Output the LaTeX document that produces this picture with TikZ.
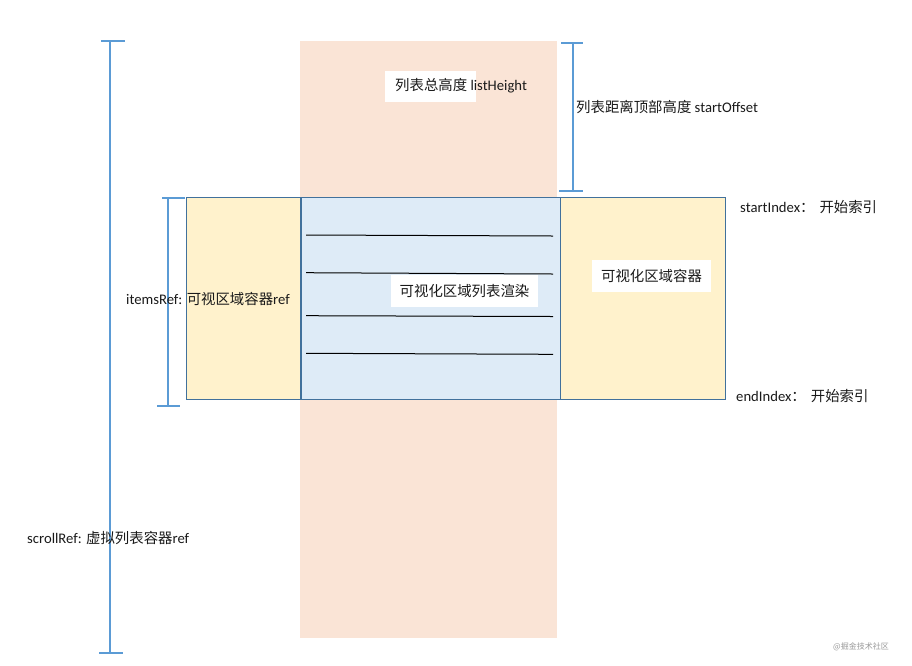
\documentclass[tikz,border=0pt]{standalone}
\usepackage{fontspec}
\setmainfont{Carlito}
\newfontfamily\cjk{Noto Sans CJK SC}
\newcommand{\zh}[1]{{\cjk\fontsize{14.4}{16}\selectfont #1}}
\definecolor{peachc}{HTML}{FAE4D6}
\definecolor{yellowc}{HTML}{FFF2CC}
\definecolor{bluec}{HTML}{DEEBF7}
\definecolor{edgec}{HTML}{41719C}
\definecolor{brkc}{HTML}{5B9BD5}
\definecolor{txtc}{HTML}{1A1A1A}
\definecolor{wmc}{HTML}{9A9A9A}
\begin{document}
\begin{tikzpicture}[x=1pt,y=-1pt,
  areabox/.style={draw=edgec,line width=0.8pt},
  rowline/.style={draw=black,line width=1pt},
  brk/.style={draw=brkc,line width=1.1pt},
  whitebox/.style={fill=white,draw=none},
  lbl/.style={anchor=west,inner sep=0pt,text=txtc,font=\fontsize{14.67}{16}\selectfont},
  clbl/.style={anchor=center,inner sep=0pt,text=txtc,font=\fontsize{14.67}{16}\selectfont}]
\useasboundingbox (0,0) rectangle (912,665);
\fill[white] (0,0) rectangle (912,665);
% list background
\fill[peachc] (300,41) rectangle (557,638);
% containers
\path[areabox,fill=yellowc] (186,197) rectangle (300,399);
\path[areabox,fill=bluec] (301,197) rectangle (560,399);
\path[areabox,fill=yellowc] (560,197) rectangle (725,399);
% rows
\draw[rowline] (306,235) -- (553,236);
\draw[rowline] (306,272.7) -- (553,274);
\draw[rowline] (306,315.7) -- (553,316.5);
\draw[rowline] (306,353.3) -- (553,354.3);
% white label backgrounds
\fill[whitebox] (385,71) rectangle (476,102);
\fill[whitebox] (391,275) rectangle (538,307);
\fill[whitebox] (592,260) rectangle (711,292);
% brackets
\draw[brk] (110,41) -- (110,653);
\draw[brk] (101,41) -- (125,41);
\draw[brk] (99,653) -- (123,653);
\draw[brk] (573,43) -- (573,191);
\draw[brk] (561,43) -- (583,43);
\draw[brk] (559,191) -- (583,191);
\draw[brk] (168,198) -- (168,406);
\draw[brk] (162,198) -- (185,198);
\draw[brk] (157,406) -- (180,406);
% labels
\node[lbl] (listh) at (395,86) {\zh{列表总高度} listHeight};
\node[lbl] (offs) at (576,107) {\zh{列表距离顶部高度} startOffset};
\node[lbl] (sidx) at (740,207) {startIndex\zh{：}\hspace{5pt}\zh{开始索引}};
\node[lbl] (eidx) at (736,396) {endIndex\zh{：}\hspace{5pt}\zh{开始索引}};
\node[lbl] (items) at (126,299) {itemsRef: \zh{可视区域容器}ref};
\node[lbl] (scroll) at (27,538) {scrollRef: \zh{虚拟列表容器}ref};
\node[clbl] (render) at (464.5,291) {\zh{可视化区域列表渲染}};
\node[clbl] (visc) at (651.5,276) {\zh{可视化区域容器}};
\node[anchor=center,inner sep=0pt,text=wmc] (wm) at (861,647) {{\cjk\fontsize{8}{9}\selectfont @掘金技术社区}};
\end{tikzpicture}
\end{document}
